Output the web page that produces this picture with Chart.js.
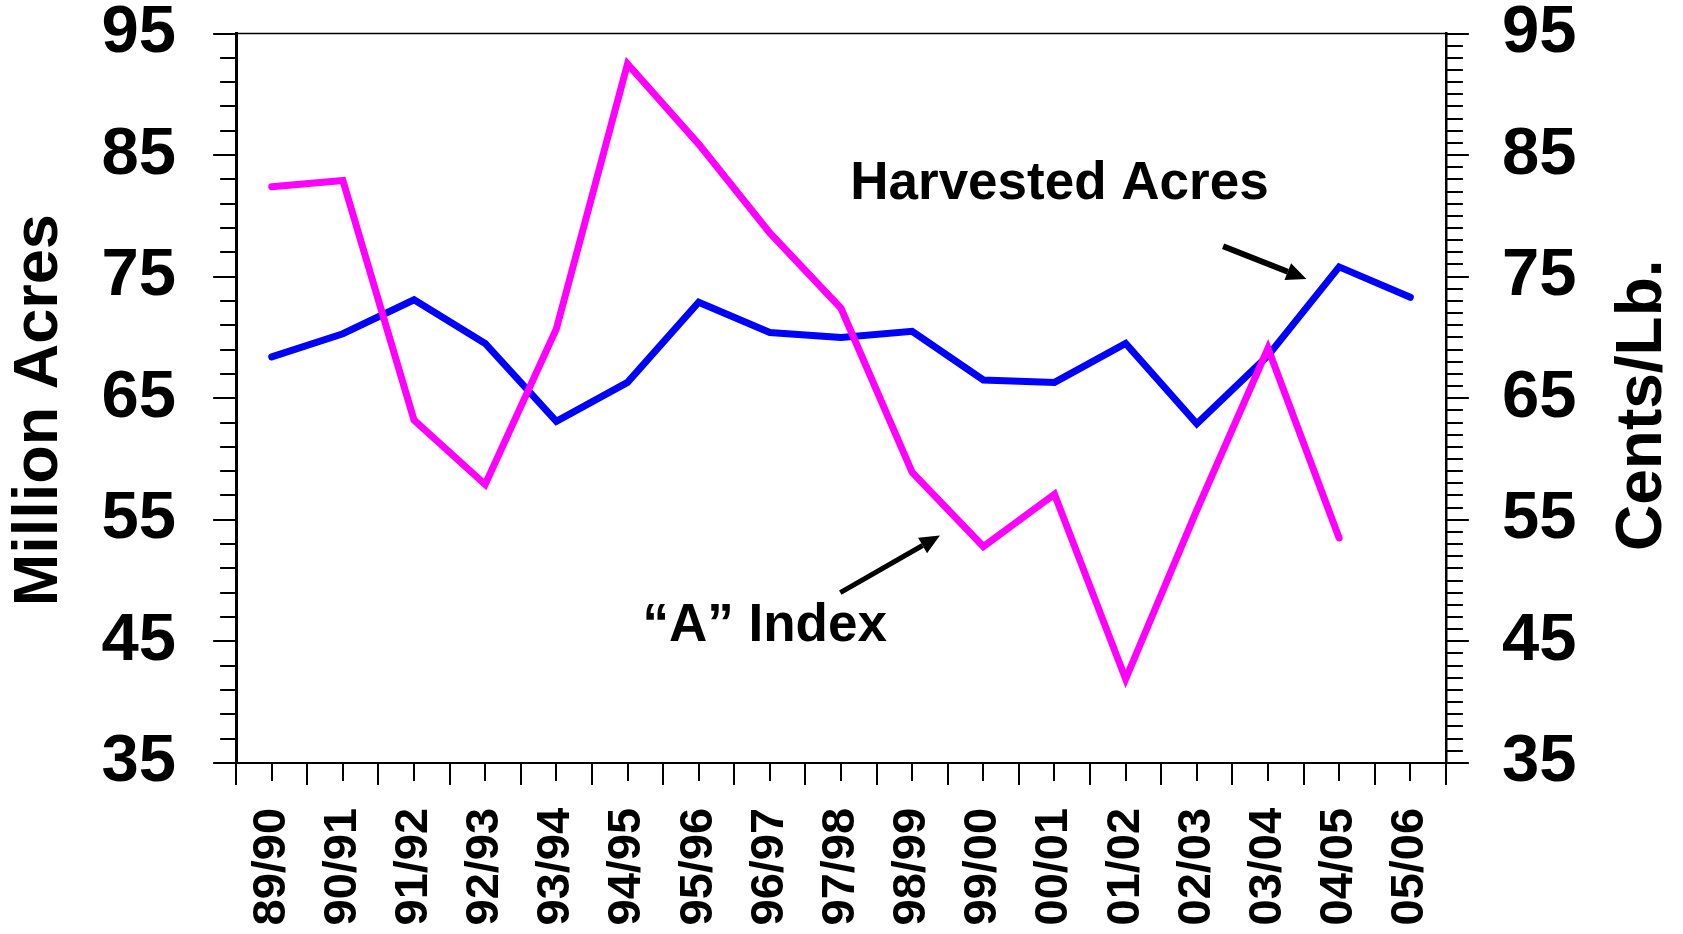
<!DOCTYPE html>
<html>
<head>
<meta charset="utf-8">
<script src="https://cdn.jsdelivr.net/npm/chart.js@4"></script>
<style>
body { margin: 0; background: #fff; }
#wrap { width: 1683px; height: 934px; }
</style>
</head>
<body>
<div id="wrap"><canvas id="cottonChart" width="1683" height="934"></canvas></div>
<script>
var seasons = ['89/90', '90/91', '91/92', '92/93', '93/94', '94/95', '95/96', '96/97', '97/98',
               '98/99', '99/00', '00/01', '01/02', '02/03', '03/04', '04/05', '05/06'];
// million acres (left axis)
var harvestedAcres = [68.4, 70.3, 73.1, 69.5, 63.1, 66.3, 72.9, 70.4, 70.0,
                      70.5, 66.5, 66.3, 69.5, 62.9, 68.5, 75.8, 73.3];
// cents/lb (right axis)
var aIndex = [82.4, 82.9, 63.2, 57.9, 70.7, 92.5, 85.9, 78.6, 72.4,
              58.9, 52.8, 57.1, 41.9, 55.8, 69.1, 53.5, null];
var axisLabels = [35, 45, 55, 65, 75, 85, 95];

var FONT = "'Liberation Sans', Arial, Helvetica, sans-serif";

// callouts, placed in data units (x = season index, y = axis value)
var notes = [
    { text: 'Harvested Acres', x: 8.13, y: 81.4, from: [13.37, 77.5], to: [14.54, 74.8], w: 6 },
    { text: '\u201CA\u201D Index', x: 5.21, y: 45.0, from: [7.99, 49.0], to: [9.39, 53.7], w: 5 }
];

function arrow(ctx, x1, y1, x2, y2, w) {
    var ang = Math.atan2(y2 - y1, x2 - x1);
    var hl = 20, hw = 9;
    var bx = x2 - hl * Math.cos(ang), by = y2 - hl * Math.sin(ang);
    ctx.lineWidth = w;
    ctx.beginPath();
    ctx.moveTo(x1, y1);
    ctx.lineTo(bx, by);
    ctx.stroke();
    ctx.beginPath();
    ctx.moveTo(x2, y2);
    ctx.lineTo(bx + hw * Math.sin(ang), by - hw * Math.cos(ang));
    ctx.lineTo(bx - hw * Math.sin(ang), by + hw * Math.cos(ang));
    ctx.closePath();
    ctx.fill();
}

function sideTitle(ctx, text, size, cx, cy) {
    ctx.save();
    ctx.translate(cx, cy);
    ctx.rotate(-Math.PI / 2);
    ctx.font = 'bold ' + size + 'px ' + FONT;
    ctx.textAlign = 'center';
    ctx.textBaseline = 'middle';
    ctx.fillText(text, 0, 0);
    ctx.restore();
}

var decor = {
    id: 'decor',
    afterDraw: function(chart) {
        var ctx = chart.ctx, a = chart.chartArea;
        var x = chart.scales.x, y = chart.scales.y, y1 = chart.scales.y1;
        ctx.save();
        ctx.strokeStyle = '#000';
        ctx.fillStyle = '#000';

        // tick marks: long at labelled values / category edges, short in between
        ctx.lineWidth = 2;
        ctx.beginPath();
        for (var v = 35; v <= 95; v += 2) {
            var py = Math.round(y.getPixelForValue(v));
            var len = (v - 35) % 10 == 0 ? 23 : 16;
            ctx.moveTo(a.left - len, py);
            ctx.lineTo(a.left, py);
        }
        for (var v = 35; v <= 95; v++) {
            var py = Math.round(y1.getPixelForValue(v));
            var len = (v - 35) % 10 == 0 ? 23 : 17;
            ctx.moveTo(a.right, py);
            ctx.lineTo(a.right + len, py);
        }
        for (var k = -0.5; k <= seasons.length - 0.5; k += 0.5) {
            var px = Math.round(x.getPixelForValue(k));
            var len = (k % 1 != 0) ? 22 : 18;
            ctx.moveTo(px, a.bottom);
            ctx.lineTo(px, a.bottom + len);
        }
        ctx.stroke();

        // top frame line
        ctx.lineWidth = 1.5;
        ctx.beginPath();
        ctx.moveTo(a.left, a.top);
        ctx.lineTo(a.right, a.top);
        ctx.stroke();

        // axis titles, both read bottom to top
        var mid = (a.top + a.bottom) / 2;
        sideTitle(ctx, 'Million Acres', 63, y.left - 62, mid + 12);
        sideTitle(ctx, 'Cents/Lb.', 64, y1.right + 67, mid + 7);

        // callouts
        ctx.font = 'bold 53px ' + FONT;
        ctx.textAlign = 'left';
        ctx.textBaseline = 'alphabetic';
        notes.forEach(function(n) {
            ctx.fillText(n.text, x.getPixelForValue(n.x), y.getPixelForValue(n.y));
            arrow(ctx, x.getPixelForValue(n.from[0]), y.getPixelForValue(n.from[1]),
                  x.getPixelForValue(n.to[0]), y.getPixelForValue(n.to[1]), n.w);
        });
        ctx.restore();
    }
};

var onlyLabels = function(scale) {
    scale.ticks = axisLabels.map(function(v) { return { value: v }; });
};

// invisible tick marks are used as the gap between axis line and labels
function gapGrid(len) {
    return { display: true, drawOnChartArea: false, drawTicks: true,
             tickLength: len, tickColor: 'rgba(0,0,0,0)' };
}

new Chart(document.getElementById('cottonChart'), {
    type: 'line',
    data: {
        labels: seasons,
        datasets: [{
            label: '"A" Index',
            data: aIndex,
            yAxisID: 'y1',
            borderColor: '#FF00FF',
            borderWidth: 7,
            borderCapStyle: 'round',
            borderJoinStyle: 'miter',
            pointRadius: 0,
            tension: 0,
            fill: false
        }, {
            label: 'Harvested Acres',
            data: harvestedAcres,
            yAxisID: 'y',
            borderColor: '#0000FF',
            borderWidth: 7,
            borderCapStyle: 'round',
            borderJoinStyle: 'miter',
            pointRadius: 0,
            tension: 0,
            fill: false
        }]
    },
    options: {
        responsive: false,
        animation: false,
        devicePixelRatio: 1,
        layout: { padding: { left: 101.6, right: 106.6, top: 33, bottom: 8.5 } },
        plugins: { legend: { display: false }, tooltip: { enabled: false } },
        scales: {
            x: {
                offset: true,
                grid: gapGrid(45),
                border: { color: '#000', width: 2 },
                ticks: {
                    color: '#000',
                    font: { family: FONT, size: 47, weight: 'bold', lineHeight: 1 },
                    minRotation: 90,
                    maxRotation: 90,
                    autoSkip: false,
                    padding: 0
                }
            },
            y: {
                position: 'left',
                min: 35,
                max: 95,
                afterBuildTicks: onlyLabels,
                grid: gapGrid(60),
                border: { color: '#000', width: 3 },
                ticks: {
                    color: '#000',
                    font: { family: FONT, size: 67, weight: 'bold', lineHeight: 1 },
                    padding: 0
                }
            },
            y1: {
                position: 'right',
                min: 35,
                max: 95,
                afterBuildTicks: onlyLabels,
                grid: gapGrid(56),
                border: { color: '#000', width: 2.5 },
                ticks: {
                    color: '#000',
                    font: { family: FONT, size: 67, weight: 'bold', lineHeight: 1 },
                    padding: 0
                }
            }
        }
    },
    plugins: [decor]
});
</script>
</body>
</html>
